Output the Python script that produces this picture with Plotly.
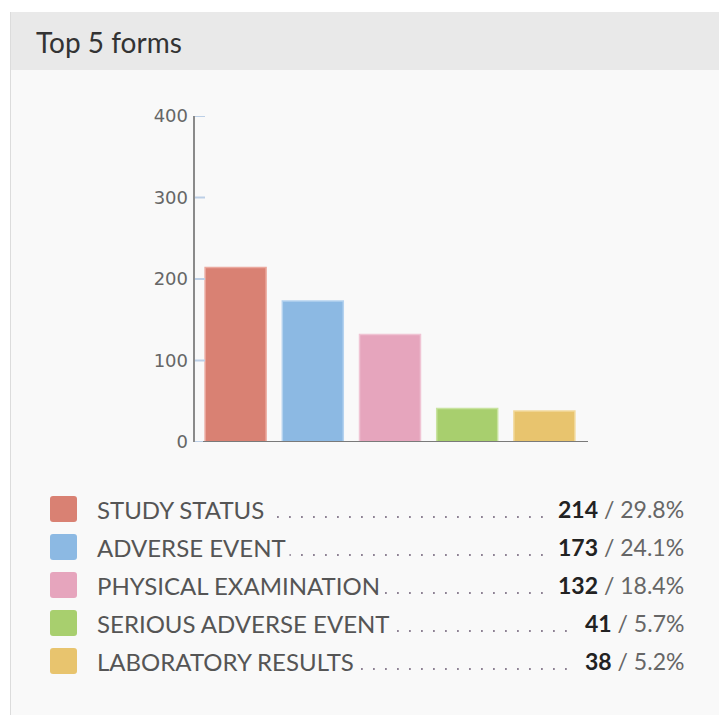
import plotly.graph_objects as go

# Form counts shown in the chart
forms = ["STUDY STATUS", "ADVERSE EVENT", "PHYSICAL EXAMINATION",
         "SERIOUS ADVERSE EVENT", "LABORATORY RESULTS"]
counts = [214, 173, 132, 41, 38]
share_labels = ["29.8%", "24.1%", "18.4%", "5.7%", "5.2%"]
bar_colors = ["#d98173", "#8cb9e3", "#e6a5bd", "#a8cf6e", "#e8c46e"]
edge_colors = ["#eba99e", "#b4d2ef", "#f0c4d4", "#c8e39f", "#f2d99c"]
y_ticks = [0, 100, 200, 300, 400]

W, H = 719, 715
L, R, T, B = 197, 136, 116, 273
PW, PH = W - L - R, H - T - B


def px(x):
    return (x - L) / PW


def py(y):
    return (H - B - y) / PH


fig = go.Figure()
fig.add_trace(go.Bar(
    x=forms, y=counts, width=0.79,
    marker=dict(color=bar_colors, line=dict(color=edge_colors, width=1.5)),
    hoverinfo="x+y",
))

shapes = [
    # card header and body
    dict(type="rect", xref="paper", yref="paper", x0=px(10), x1=px(740),
         y0=py(12), y1=py(70), fillcolor="#e9e9e9", line=dict(width=0), layer="below"),
    dict(type="rect", xref="paper", yref="paper", x0=px(10), x1=px(740),
         y0=py(70), y1=py(740), fillcolor="#f9f9f9", line=dict(width=0), layer="below"),
    dict(type="line", xref="paper", yref="paper", x0=px(10.5), x1=px(10.5),
         y0=py(12), y1=py(740), line=dict(color="#dcdcdc", width=1)),
]
# y axis tick marks and line
for v in y_ticks:
    shapes.append(dict(type="line", xref="paper", yref="y", x0=px(194), x1=px(205),
                       y0=v, y1=v, line=dict(color="#bccfe6", width=2)))
shapes.append(dict(type="line", xref="paper", yref="y", x0=px(194), x1=px(194),
                   y0=y_ticks[0], y1=y_ticks[-1], line=dict(color="#8a8a8a", width=2)))
# x axis baseline
shapes.append(dict(type="line", xref="paper", yref="y", x0=px(203), x1=px(588),
                   y0=0, y1=0, line=dict(color="#7a7a7a", width=2)))

annotations = [
    dict(text="Top 5 forms", xref="paper", yref="paper", x=px(34), y=py(42),
         xanchor="left", yanchor="middle", showarrow=False,
         font=dict(family="Lato", size=28, color="#333333")),
]

row0, row_step = 509, 38
for i, (name, n, share, c) in enumerate(zip(forms, counts, share_labels, bar_colors)):
    yc = row0 + i * row_step
    # rounded colour swatch
    x0, x1, y0, y1, r = px(50), px(77), py(yc + 13), py(yc - 13), 3
    rx, ry = r / PW, r / PH
    path = (f"M{x0 + rx},{y0} L{x1 - rx},{y0} Q{x1},{y0} {x1},{y0 + ry} "
            f"L{x1},{y1 - ry} Q{x1},{y1} {x1 - rx},{y1} L{x0 + rx},{y1} "
            f"Q{x0},{y1} {x0},{y1 - ry} L{x0},{y0 + ry} Q{x0},{y0} {x0 + rx},{y0} Z")
    shapes.append(dict(type="path", xref="paper", yref="paper", path=path,
                       fillcolor=c, line=dict(width=0)))
    # dotted leader
    shapes.append(dict(type="line", xref="paper", yref="paper",
                       x0=px(97), x1=px(684), y0=py(yc + 8), y1=py(yc + 8),
                       line=dict(color="#8e8294", width=1.8, dash="1.8px,10.2px")))
    annotations.append(dict(
        text=name, xref="paper", yref="paper", x=px(93), y=py(yc),
        xanchor="left", yanchor="middle", showarrow=False,
        bgcolor="#f9f9f9", borderpad=3,
        font=dict(family="Lato", size=24, color="#555555")))
    annotations.append(dict(
        text=f"<b><span style='color:#222222'>{n}</span></b> / {share}",
        xref="paper", yref="paper", x=px(694), y=py(yc),
        xanchor="right", yanchor="middle", showarrow=False,
        bgcolor="#f9f9f9", borderpad=9,
        font=dict(family="Lato", size=23, color="#666666")))

fig.update_layout(
    width=W, height=H,
    margin=dict(l=L, r=R, t=T, b=B),
    paper_bgcolor="#ffffff", plot_bgcolor="rgba(0,0,0,0)",
    showlegend=False, bargap=0.21,
    shapes=shapes, annotations=annotations,
    xaxis=dict(showticklabels=False, showgrid=False, zeroline=False,
               showline=False, ticks="", range=[-0.5, 4.5]),
    yaxis=dict(range=[0, 400], tickvals=y_ticks, showgrid=False, zeroline=False,
               showline=False, ticks="", ticklabelstandoff=8,
               tickfont=dict(family="DejaVu Sans", size=18, color="#666666")),
)

fig.write_html("out.html")
